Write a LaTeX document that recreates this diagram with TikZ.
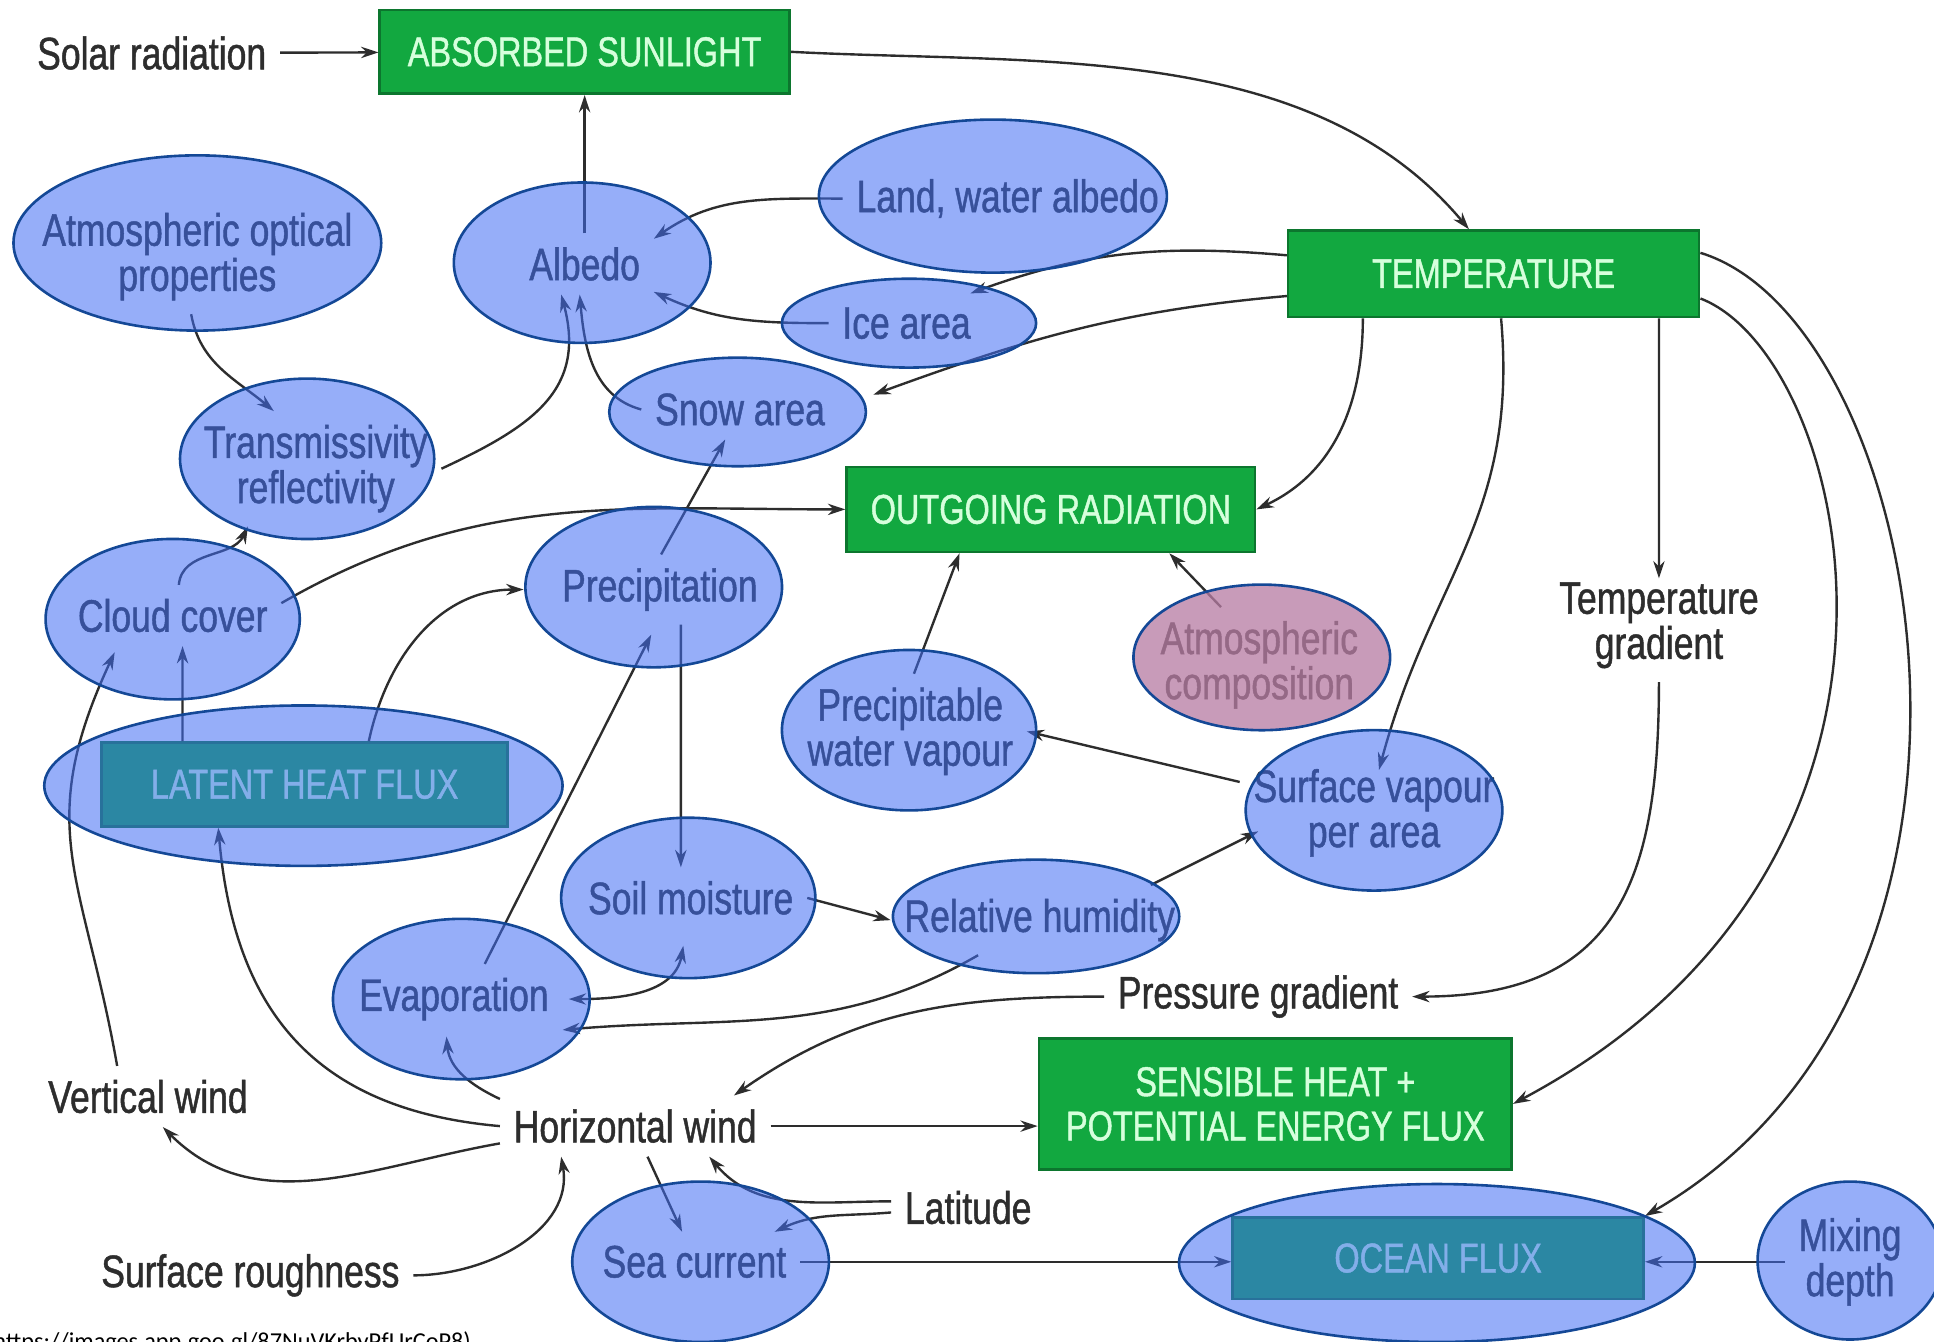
\documentclass[tikz,border=0pt]{standalone}
\usepackage{fontspec}
\setmainfont{Liberation Sans}[FakeStretch=0.78,FakeBold=1.0]
\newfontfamily\urlfont{Carlito}
\usetikzlibrary{shapes.geometric,arrows.meta}
\definecolor{boxgreen}{RGB}{18,168,64}
\definecolor{boxedge}{RGB}{12,118,46}
\definecolor{boxtext}{RGB}{214,255,220}
\definecolor{ovblue}{RGB}{64,109,245}
\definecolor{ovpink}{RGB}{183,124,163}
\definecolor{ovedge}{RGB}{20,72,150}
\definecolor{ink}{RGB}{45,45,45}
\tikzset{
  lbl/.style={font=\fontsize{10.5}{10.4}\selectfont, text=ink, align=center, inner sep=3pt},
  gbox/.style={draw=boxedge, line width=0.6pt, fill=boxgreen, text=boxtext,
    font=\fontsize{9.6}{10.2}\selectfont, align=center, inner sep=0pt},
  ov/.style={ellipse, draw=ovedge, line width=0.6pt, fill=ovblue, fill opacity=0.55, inner sep=0pt},
  ovp/.style={ov, fill=ovpink, fill opacity=0.76},
  arr/.style={draw=ink, line width=0.55pt, -{Stealth[length=4pt,width=2.6pt]}},
}
\begin{document}
\begin{tikzpicture}[x=0.01cm, y=-0.01cm]
\useasboundingbox (0,0) rectangle (1568,1088);
\fill[white] (0,0) rectangle (1568,1088);

% green boxes
\node[gbox, minimum width=3.32cm, minimum height=0.68cm] (absorbed) at (474,42) {ABSORBED SUNLIGHT};
\node[gbox, minimum width=3.33cm, minimum height=0.70cm] (temp) at (1211,222) {TEMPERATURE};
\node[gbox, minimum width=3.31cm, minimum height=0.69cm] (outgoing) at (852,413) {OUTGOING RADIATION};
\node[gbox, minimum width=3.83cm, minimum height=1.06cm] (sensible) at (1034,895) {SENSIBLE HEAT +\\POTENTIAL ENERGY FLUX};
\node[gbox, minimum width=3.29cm, minimum height=0.68cm] (latent) at (247,636) {LATENT HEAT FLUX};
\node[gbox, minimum width=3.33cm, minimum height=0.66cm] (ocean) at (1166,1020) {OCEAN FLUX};

% text labels
\node[lbl] (solar) at (123,43) {Solar radiation};
\node[lbl] (aop) at (160,208) {Atmospheric optical\\properties};
\node[lbl] (albedo) at (474,214) {Albedo};
\node[lbl] (land) at (817,161) {Land, water albedo};
\node[lbl] (ice) at (735,262) {Ice area};
\node[lbl] (snow) at (600,332) {Snow area};
\node[lbl] (trans) at (256,380) {Transmissivity\\reflectivity};
\node[lbl] (cloud) at (140,499) {Cloud cover};
\node[lbl] (precip) at (535,478) {Precipitation};
\node[lbl] (pwv) at (738,593) {Precipitable\\water vapour};
\node[lbl] (atmc) at (1021,539) {Atmospheric\\composition};
\node[lbl] (svpa) at (1114,659) {Surface vapour\\per area};
\node[lbl] (soil) at (560,728) {Soil moisture};
\node[lbl] (relh) at (843,746) {Relative humidity};
\node[lbl] (evap) at (368,810) {Evaporation};
\node[lbl] (sea) at (563,1023) {Sea current};
\node[lbl] (mix) at (1500,1023) {Mixing\\depth};
\node[lbl] (tgrad) at (1345,507) {Temperature\\gradient};
\node[lbl] (pgrad) at (1020,808) {Pressure gradient};
\node[lbl] (hwind) at (515,913) {Horizontal wind};
\node[lbl] (vwind) at (120,889) {Vertical wind};
\node[lbl] (lat) at (785,979) {Latitude};
\node[lbl] (rough) at (203,1034) {Surface roughness};
\node[font=\urlfont\fontsize{5.6}{6}\selectfont, anchor=base west, inner sep=0pt] (url) at (-6,1094) {https://images.app.goo.gl/87NuVKrbyPfUrCoP8)};

% connectors
\draw[arr] (solar) -- (absorbed);
\draw[arr] (absorbed.east) to[out=-3,in=130,looseness=0.9] ([xshift=-0.2cm]temp.north);
\draw[arr] (albedo) -- (absorbed);
\draw[arr] (land.west) to[out=180,in=35] (albedo.20);
\draw[arr] (ice.west) to[out=180,in=-25] (albedo.-22);
\draw[arr] ([yshift=0.15cm]temp.west) to[out=175,in=20] (ice.25);
\draw[arr] ([yshift=-0.18cm]temp.west) to[out=185,in=20] ([xshift=0.28cm,yshift=0.12cm]snow.east);
\draw[arr] (snow.west) to[out=165,in=-85] ([xshift=-0.04cm]albedo.south);
\draw[arr] (trans.east) to[out=25,in=-75,looseness=1.2] ([xshift=-0.19cm]albedo.south);
\draw[arr] ([xshift=-0.05cm]aop.south) to[out=-80,in=140] ([xshift=-0.34cm]trans.north);
\draw[arr] ([xshift=0.05cm]cloud.north) to[out=85,in=-115] ([xshift=-0.55cm]trans.south);
\draw[arr] ([yshift=0.1cm]cloud.east) to[out=30,in=180] (outgoing.west);
\draw[arr] ([xshift=0.01cm]precip.north) -- ([xshift=-0.12cm]snow.south);
\draw[arr] ([xshift=-0.99cm]latent.north) -- ([xshift=0.08cm]cloud.south);
\draw[arr] ([xshift=0.52cm]latent.north) to[out=78,in=180] ([xshift=-0.2cm]precip.west);
\draw[arr] ([xshift=0.17cm]precip.south) -- ([xshift=-0.08cm]soil.north);
\draw[arr] ([xshift=0.25cm]evap.north) -- ([xshift=-0.07cm,yshift=-0.08cm]precip.south);
\draw[arr, {Stealth[length=4pt,width=2.6pt]}-{Stealth[length=4pt,width=2.6pt]}] ([xshift=0.05cm]evap.east) to[out=0,in=-100] ([xshift=-0.06cm,yshift=-0.14cm]soil.south);
\draw[arr] (soil.east) -- (relh.west);
\draw[arr] ([xshift=0.9cm]relh.north) -- ([xshift=0.15cm,yshift=-0.15cm]svpa.west);
\draw[arr] ([yshift=0.25cm]svpa.west) -- (pwv.east);
\draw[arr] ([xshift=0.03cm]pwv.north) -- ([xshift=-0.74cm]outgoing.south);
\draw[arr] ([xshift=-0.31cm]atmc.north) -- ([xshift=0.96cm]outgoing.south);
\draw[arr] ([xshift=-1.06cm]temp.south) to[out=-90,in=25] (outgoing.east);
\draw[arr] ([xshift=0.06cm]temp.south) to[out=-85,in=75,looseness=1.1] ([xshift=0.04cm,yshift=-0.12cm]svpa.north);
\draw[arr] ([xshift=1.34cm]temp.south) -- ([yshift=-0.08cm]tgrad.north);
\draw[arr] (tgrad.south) to[out=-90,in=0,looseness=1.3] (pgrad.east);
\draw[arr] ([yshift=-0.2cm]temp.east) to[out=-21,out distance=1.31cm,in=28,in distance=4.2cm] (sensible.east);
\draw[arr] ([yshift=0.17cm]temp.east) to[out=-17,out distance=1.9cm,in=30,in distance=3.78cm] (ocean.north east);
\draw[arr] (pgrad.west) to[out=180,in=35] ([xshift=0.8cm]hwind.north);
\draw[arr] ([xshift=-0.5cm]relh.south) to[out=-150,in=5] ([yshift=-0.25cm]evap.east);
\draw[arr] ([yshift=0.22cm]hwind.west) to[out=155,in=-85] ([xshift=-0.06cm,yshift=-0.02cm]evap.south);
\draw[arr] (hwind.west) to[out=175,in=-85,looseness=1.15] ([xshift=-0.7cm]latent.south);
\draw[arr] ([xshift=-0.25cm]vwind.north) to[out=100,in=-115,looseness=1.2] ([xshift=-0.47cm,yshift=-0.05cm]cloud.south);
\draw[arr] ([yshift=-0.14cm]hwind.west) to[out=190,in=-45] ([xshift=0.12cm]vwind.south);
\draw[arr] (hwind.east) -- (hwind.east -| sensible.west);
\draw[arr] ([xshift=0.1cm]hwind.south) -- ([xshift=-0.1cm]sea.north);
\draw[arr] ([yshift=0.05cm]lat.west) to[out=180,in=-50] ([xshift=0.6cm]hwind.south);
\draw[arr] ([yshift=-0.04cm]lat.west) to[out=185,in=25] ([xshift=0.65cm]sea.north);
\draw[arr] (rough.east) to[out=0,in=-80] ([xshift=-0.6cm]hwind.south);
\draw[arr] (sea.east) -- (sea.east -| ocean.west);
\draw[arr] (mix.west) -- (mix.west -| ocean.east);

% translucent ellipses on top
\node[ov, minimum width=2.98cm, minimum height=1.42cm] (aopE) at (160,197) {};
\node[ov, minimum width=2.08cm, minimum height=1.30cm] (albedoE) at (472,213) {};
\node[ov, minimum width=2.82cm, minimum height=1.24cm] (landE) at (805,159) {};
\node[ov, minimum width=2.06cm, minimum height=0.72cm] (iceE) at (737,262) {};
\node[ov, minimum width=2.08cm, minimum height=0.88cm] (snowE) at (598,334) {};
\node[ov, minimum width=2.06cm, minimum height=1.30cm] (transE) at (249,372) {};
\node[ov, minimum width=2.06cm, minimum height=1.30cm] (cloudE) at (140,502) {};
\node[ov, minimum width=2.08cm, minimum height=1.30cm] (precipE) at (530,476) {};
\node[ov, minimum width=2.06cm, minimum height=1.30cm] (pwvE) at (737,592) {};
\node[ovp, minimum width=2.08cm, minimum height=1.18cm] (atmcE) at (1023,533) {};
\node[ov, minimum width=2.08cm, minimum height=1.30cm] (svpaE) at (1114,657) {};
\node[ov, minimum width=2.06cm, minimum height=1.30cm] (soilE) at (558,728) {};
\node[ov, minimum width=2.32cm, minimum height=0.92cm] (relhE) at (840,743) {};
\node[ov, minimum width=2.08cm, minimum height=1.30cm] (evapE) at (374,810) {};
\node[ov, minimum width=2.08cm, minimum height=1.30cm] (seaE) at (568,1023) {};
\node[ov, minimum width=1.50cm, minimum height=1.28cm] (mixE) at (1500,1022) {};
\node[ov, minimum width=4.20cm, minimum height=1.30cm] (latentE) at (246,637) {};
\node[ov, minimum width=4.18cm, minimum height=1.28cm] (oceanE) at (1165,1024) {};
\end{tikzpicture}
\end{document}
